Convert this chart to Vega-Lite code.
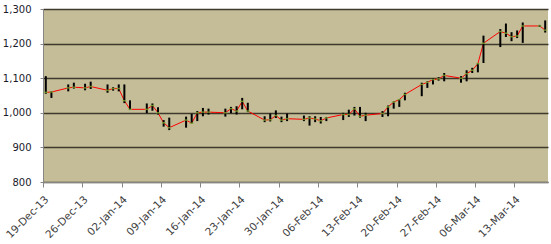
{
  "$schema": "https://vega.github.io/schema/vega-lite/v6.json",
  "width": 505,
  "height": 173,
  "autosize": "none",
  "padding": {"left": 43, "top": 9, "right": 3, "bottom": 62},
  "background": "#ffffff",
  "config": {
    "view": {"fill": "#C4BD97", "stroke": null},
    "axis": {"labelFont": "DejaVu Sans", "labelFontSize": 10, "titleFont": "DejaVu Sans", "labelOverlap": false},
    "axisY": {
      "title": null,
      "values": [800, 850, 900, 950, 1000, 1050, 1100, 1150, 1200, 1250, 1300],
      "format": ",d",
      "grid": true,
      "gridColor": "#3e3a2c",
      "gridWidth": 1.4,
      "labelColor": "#1a1a2a",
      "tickColor": "#868686",
      "domainColor": "#868686",
      "tickSize": 3,
      "labelPadding": 9
    }
  },
  "data": {
    "values": [
      {"d": "2013-12-19T12:00:00", "h": 1106, "l": 1055, "c": 1059},
      {"d": "2013-12-20T12:00:00", "h": 1062, "l": 1043, "c": 1060},
      {"d": "2013-12-23T12:00:00", "h": 1082, "l": 1062, "c": 1072},
      {"d": "2013-12-24T12:00:00", "h": 1087, "l": 1070, "c": 1074},
      {"d": "2013-12-26T12:00:00", "h": 1084, "l": 1065, "c": 1072},
      {"d": "2013-12-27T12:00:00", "h": 1090, "l": 1069, "c": 1076},
      {"d": "2013-12-30T12:00:00", "h": 1082, "l": 1058, "c": 1065},
      {"d": "2013-12-31T12:00:00", "h": 1074, "l": 1064, "c": 1070},
      {"d": "2014-01-01T12:00:00", "h": 1082, "l": 1062, "c": 1070},
      {"d": "2014-01-02T12:00:00", "h": 1082, "l": 1028, "c": 1035},
      {"d": "2014-01-03T12:00:00", "h": 1036, "l": 1008, "c": 1010},
      {"d": "2014-01-06T12:00:00", "h": 1027, "l": 999, "c": 1010},
      {"d": "2014-01-07T12:00:00", "h": 1027, "l": 1006, "c": 1021},
      {"d": "2014-01-08T12:00:00", "h": 1016, "l": 995, "c": 1000},
      {"d": "2014-01-09T12:00:00", "h": 979, "l": 960, "c": 971},
      {"d": "2014-01-10T12:00:00", "h": 986, "l": 950, "c": 957},
      {"d": "2014-01-13T12:00:00", "h": 989, "l": 957, "c": 979},
      {"d": "2014-01-14T12:00:00", "h": 997, "l": 969, "c": 970},
      {"d": "2014-01-15T12:00:00", "h": 1005, "l": 976, "c": 1000},
      {"d": "2014-01-16T12:00:00", "h": 1014, "l": 990, "c": 1002},
      {"d": "2014-01-17T12:00:00", "h": 1012, "l": 995, "c": 1002},
      {"d": "2014-01-20T12:00:00", "h": 1012, "l": 989, "c": 1000},
      {"d": "2014-01-21T12:00:00", "h": 1017, "l": 999, "c": 1012},
      {"d": "2014-01-22T12:00:00", "h": 1019, "l": 995, "c": 1005},
      {"d": "2014-01-23T12:00:00", "h": 1043, "l": 1010, "c": 1033},
      {"d": "2014-01-24T12:00:00", "h": 1029, "l": 1002, "c": 1005},
      {"d": "2014-01-27T12:00:00", "h": 990, "l": 973, "c": 979},
      {"d": "2014-01-28T12:00:00", "h": 998, "l": 975, "c": 980},
      {"d": "2014-01-29T12:00:00", "h": 1007, "l": 985, "c": 992},
      {"d": "2014-01-30T12:00:00", "h": 989, "l": 973, "c": 979},
      {"d": "2014-01-31T12:00:00", "h": 998, "l": 976, "c": 983},
      {"d": "2014-02-03T12:00:00", "h": 992, "l": 976, "c": 981},
      {"d": "2014-02-04T12:00:00", "h": 990, "l": 963, "c": 985},
      {"d": "2014-02-05T12:00:00", "h": 990, "l": 973, "c": 982},
      {"d": "2014-02-06T12:00:00", "h": 988, "l": 969, "c": 977},
      {"d": "2014-02-07T12:00:00", "h": 988, "l": 976, "c": 985},
      {"d": "2014-02-10T12:00:00", "h": 1000, "l": 979, "c": 995},
      {"d": "2014-02-11T12:00:00", "h": 1009, "l": 988, "c": 995},
      {"d": "2014-02-12T12:00:00", "h": 1017, "l": 992, "c": 1011},
      {"d": "2014-02-13T12:00:00", "h": 1017, "l": 986, "c": 990},
      {"d": "2014-02-14T12:00:00", "h": 1000, "l": 976, "c": 993},
      {"d": "2014-02-17T12:00:00", "h": 1005, "l": 988, "c": 998},
      {"d": "2014-02-18T12:00:00", "h": 1021, "l": 990, "c": 1017},
      {"d": "2014-02-19T12:00:00", "h": 1033, "l": 1012, "c": 1031},
      {"d": "2014-02-20T12:00:00", "h": 1040, "l": 1017, "c": 1038},
      {"d": "2014-02-21T12:00:00", "h": 1058, "l": 1036, "c": 1053},
      {"d": "2014-02-24T12:00:00", "h": 1087, "l": 1048, "c": 1082},
      {"d": "2014-02-25T12:00:00", "h": 1091, "l": 1072, "c": 1088},
      {"d": "2014-02-26T12:00:00", "h": 1099, "l": 1082, "c": 1096},
      {"d": "2014-02-27T12:00:00", "h": 1103, "l": 1093, "c": 1098},
      {"d": "2014-02-28T12:00:00", "h": 1115, "l": 1091, "c": 1108},
      {"d": "2014-03-03T12:00:00", "h": 1106, "l": 1087, "c": 1100},
      {"d": "2014-03-04T12:00:00", "h": 1123, "l": 1091, "c": 1113},
      {"d": "2014-03-05T12:00:00", "h": 1130, "l": 1115, "c": 1123},
      {"d": "2014-03-06T12:00:00", "h": 1144, "l": 1117, "c": 1142},
      {"d": "2014-03-07T12:00:00", "h": 1223, "l": 1144, "c": 1201},
      {"d": "2014-03-10T12:00:00", "h": 1242, "l": 1190, "c": 1235},
      {"d": "2014-03-11T12:00:00", "h": 1258, "l": 1219, "c": 1230},
      {"d": "2014-03-12T12:00:00", "h": 1233, "l": 1207, "c": 1220},
      {"d": "2014-03-13T12:00:00", "h": 1238, "l": 1216, "c": 1222},
      {"d": "2014-03-14T12:00:00", "h": 1261, "l": 1202, "c": 1251},
      {"d": "2014-03-17T12:00:00", "h": 1254, "l": 1248, "c": 1251},
      {"d": "2014-03-18T12:00:00", "h": 1267, "l": 1232, "c": 1239}
    ]
  },
  "encoding": {
    "x": {
      "field": "d",
      "type": "temporal",
      "scale": {"domain": [{"year": 2013, "month": 12, "date": 19}, {"year": 2014, "month": 3, "date": 19}]},
      "axis": {
        "title": null,
        "grid": false,
        "format": "%d-%b-%y",
        "labelAngle": -45,
        "labelFontSize": 10.5,
        "labelColor": "#404040",
        "tickColor": "#868686",
        "domainColor": "#868686",
        "tickSize": 5,
        "labelPadding": 7,
        "values": [
          {"year": 2013, "month": 12, "date": 19},
          {"year": 2013, "month": 12, "date": 26},
          {"year": 2014, "month": 1, "date": 2},
          {"year": 2014, "month": 1, "date": 9},
          {"year": 2014, "month": 1, "date": 16},
          {"year": 2014, "month": 1, "date": 23},
          {"year": 2014, "month": 1, "date": 30},
          {"year": 2014, "month": 2, "date": 6},
          {"year": 2014, "month": 2, "date": 13},
          {"year": 2014, "month": 2, "date": 20},
          {"year": 2014, "month": 2, "date": 27},
          {"year": 2014, "month": 3, "date": 6},
          {"year": 2014, "month": 3, "date": 13}
        ]
      }
    }
  },
  "layer": [
    {
      "mark": {"type": "line", "color": "#ff0000", "strokeWidth": 1},
      "encoding": {
        "y": {
          "field": "c",
          "type": "quantitative",
          "scale": {"domain": [800, 1300], "nice": false, "zero": false}
        }
      }
    },
    {
      "mark": {"type": "rule", "color": "#000000", "strokeWidth": 2},
      "encoding": {
        "y": {"field": "l", "type": "quantitative"},
        "y2": {"field": "h"}
      }
    },
    {
      "mark": {"type": "tick", "color": "#8fbc3f", "orient": "horizontal", "size": 4, "thickness": 1.5},
      "encoding": {
        "y": {"field": "c", "type": "quantitative"}
      }
    }
  ]
}
